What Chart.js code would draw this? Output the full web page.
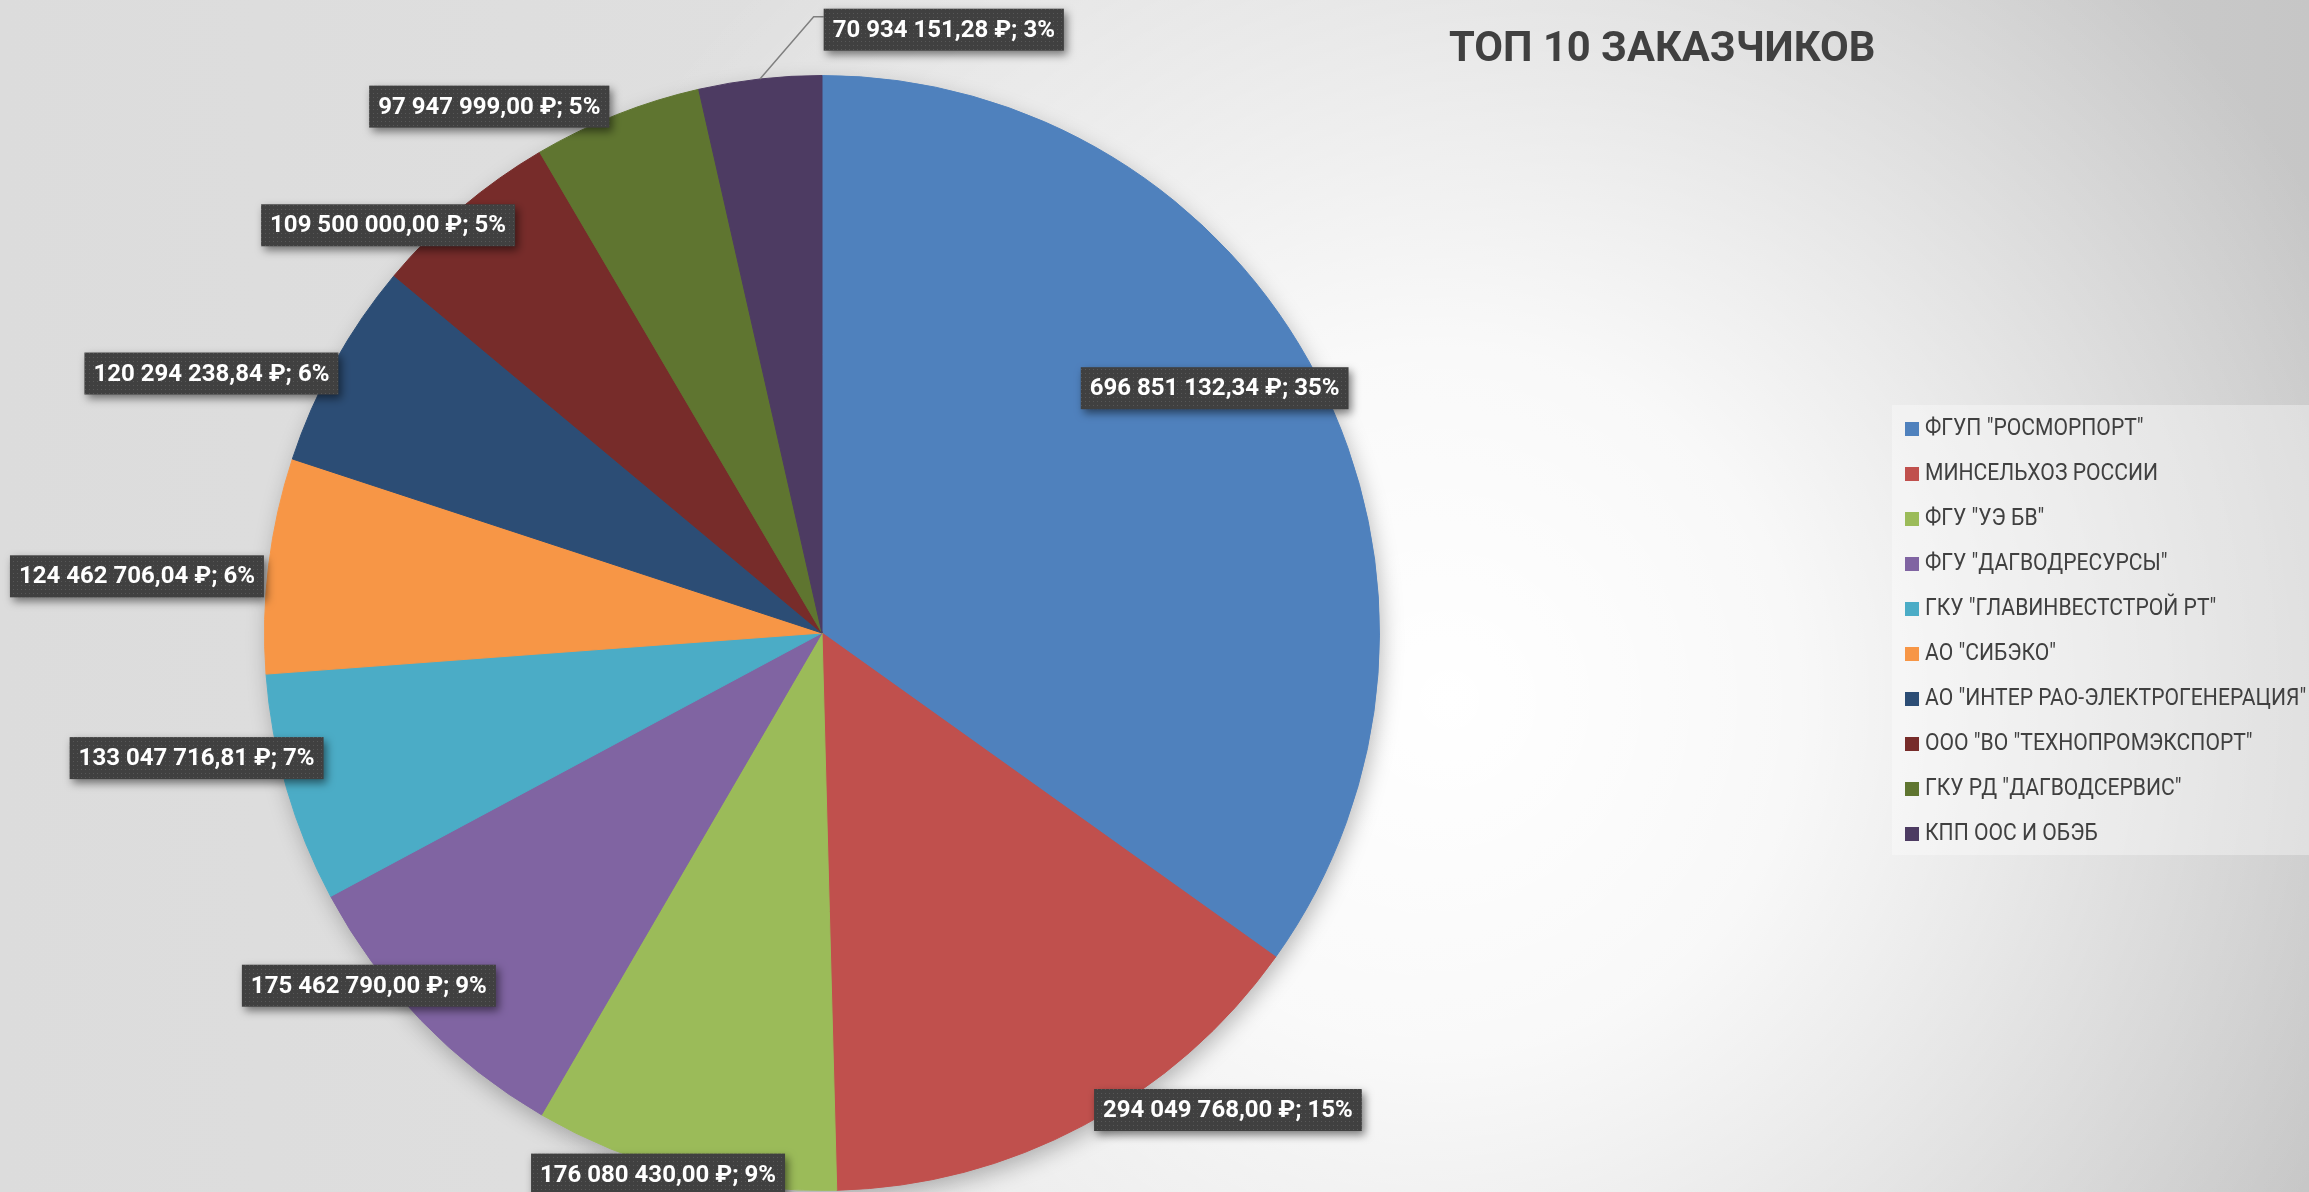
<!DOCTYPE html>
<html lang="ru">
<head>
<meta charset="utf-8">
<title>ТОП 10 ЗАКАЗЧИКОВ</title>
<script src="https://cdn.jsdelivr.net/npm/chart.js@4"></script>
<style>
  html, body { margin: 0; padding: 0; }
  body {
    width: 2309px; height: 1192px; overflow: hidden; position: relative;
    background:
      radial-gradient(circle 1000px at 1450px 700px, rgba(255,255,255,1) 0%, rgba(255,255,255,0.85) 35%, rgba(255,255,255,0) 100%),
      linear-gradient(90deg, #dcdcdc 0%, #e0e0e0 45%, #c6c6c6 100%);
  }
  #wrap { position: absolute; left: 0; top: 0; width: 2309px; height: 1192px; }
  #title {
    position: absolute; left: 1449px; top: 21px;
    font: bold 43px Roboto, "Noto Sans", sans-serif;
    color: #404040; white-space: nowrap;
    transform: scaleX(0.97); transform-origin: left center;
  }
  #legend {
    position: absolute; left: 1892px; top: 405px; width: 417px; height: 450px;
    background: rgba(255,255,255,0.35);
  }
  .item {
    position: absolute; left: 13px; height: 30px; line-height: 30px;
    font: 24px Roboto, "Noto Sans", sans-serif; color: #404040; white-space: nowrap;
  }
  .sw { display: inline-block; width: 14px; height: 14px; margin-right: 6px; vertical-align: -1px; }
  .txt { display: inline-block; transform: scaleX(0.88); transform-origin: left center; }
</style>
</head>
<body>
<div id="wrap"><canvas id="chart1"></canvas></div>
<div id="title">ТОП 10 ЗАКАЗЧИКОВ</div>
<div id="legend"></div>
<script>
// Данные: заказчики и суммы контрактов, ₽
const customers = [
    'ФГУП "РОСМОРПОРТ"',
    'МИНСЕЛЬХОЗ РОССИИ',
    'ФГУ "УЭ БВ"',
    'ФГУ "ДАГВОДРЕСУРСЫ"',
    'ГКУ "ГЛАВИНВЕСТСТРОЙ РТ"',
    'АО "СИБЭКО"',
    'АО "ИНТЕР РАО-ЭЛЕКТРОГЕНЕРАЦИЯ"',
    'ООО "ВО "ТЕХНОПРОМЭКСПОРТ"',
    'ГКУ РД "ДАГВОДСЕРВИС"',
    'КПП ООС И ОБЭБ'
];
const amounts = [
    696851132.34, 294049768.00, 176080430.00, 175462790.00, 133047716.81,
    124462706.04, 120294238.84, 109500000.00, 97947999.00, 70934151.28
];
const colors = [
    '#4F81BD', '#C0504D', '#9BBB59', '#8064A2', '#4BACC6',
    '#F79646', '#2C4D75', '#772C2A', '#5F7530', '#4D3B62'
];

// Положение подписей: [доля радиуса, сдвиг угла в градусах, выравнивание]
const labelPlace = [
    [0.83, -4.7, 'c'],
    [0.985, -1.7, 'l'],
    [1.015, 2.5, 'c'],
    [1.03, 6.1, 'c'],
    [1.144, 4.9, 'c'],
    [1.233, -2.25, 'c'],
    [1.19, -6, 'c'],
    [1.068, -6.5, 'c'],
    [1.117, -10.7, 'c'],
    [1.104, 17.8, 'c']
];

// Проценты как в Excel (сумма = 100)
function percents(values) {
    const total = values.reduce((a, b) => a + b, 0);
    const raw = values.map(v => v / total * 100);
    const res = raw.map(Math.floor);
    let left = 100 - res.reduce((a, b) => a + b, 0);
    const order = raw.map((r, i) => [r - Math.floor(r), i]).sort((a, b) => b[0] - a[0]);
    for (let k = 0; k < left; k++) res[order[k][1]]++;
    return res;
}

function money(v) {
    const parts = v.toFixed(2).split('.');
    const int = parts[0].replace(/\B(?=(\d{3})+(?!\d))/g, ' ');
    return int + ',' + parts[1] + ' ₽';
}

const pct = percents(amounts);

// Легенда
const legend = document.getElementById('legend');
customers.forEach((name, i) => {
    const el = document.createElement('div');
    el.className = 'item';
    el.style.top = (8 + i * 45) + 'px';
    el.innerHTML = '<span class="sw" style="background:' + colors[i] + '"></span>';
    const t = document.createElement('span');
    t.className = 'txt';
    t.textContent = name;
    el.appendChild(t);
    legend.appendChild(el);
});

// Фон подписей в точку
function dotPattern(ctx) {
    const c = document.createElement('canvas');
    c.width = 4; c.height = 4;
    const p = c.getContext('2d');
    p.fillStyle = '#404040';
    p.fillRect(0, 0, 4, 4);
    p.fillStyle = '#575757';
    p.fillRect(1, 1, 1, 1);
    return ctx.createPattern(c, 'repeat');
}

const pieExtras = {
    id: 'pieExtras',
    beforeDatasetsDraw(chart) {
        const arc = chart.getDatasetMeta(0).data[0];
        const ctx = chart.ctx;
        ctx.save();
        ctx.shadowColor = 'rgba(0,0,0,0.28)';
        ctx.shadowBlur = 22;
        ctx.shadowOffsetY = 8;
        ctx.shadowOffsetX = 3;
        ctx.fillStyle = '#808080';
        ctx.beginPath();
        ctx.arc(arc.x, arc.y, arc.outerRadius - 1, 0, Math.PI * 2);
        ctx.fill();
        ctx.restore();
    },
    afterDatasetsDraw(chart) {
        const ctx = chart.ctx;
        const meta = chart.getDatasetMeta(0);
        const pattern = dotPattern(ctx);
        ctx.save();
        ctx.font = 'bold 24px Roboto, "Noto Sans", sans-serif';
        meta.data.forEach((arc, i) => {
            const text = money(amounts[i]) + '; ' + pct[i] + '%';
            const [f, dA, align] = labelPlace[i];
            const mid = (arc.startAngle + arc.endAngle) / 2;
            const a = mid + dA * Math.PI / 180;
            const R = arc.outerRadius;
            const px = arc.x + f * R * Math.cos(a);
            const py = arc.y + f * R * Math.sin(a);
            const w = ctx.measureText(text).width + 18;
            const h = 42;
            let left = px - w / 2;
            if (align === 'l') left = px;
            if (align === 'r') left = px - w;
            const top = py - h / 2;

            if (i === 9) {
                // выноска
                ctx.strokeStyle = '#7f7f7f';
                ctx.lineWidth = 1.5;
                ctx.beginPath();
                ctx.moveTo(arc.x + R * Math.cos(mid), arc.y + R * Math.sin(mid));
                ctx.lineTo(left - 10, top + 8);
                ctx.lineTo(left, top + 8);
                ctx.stroke();
            }

            ctx.save();
            ctx.shadowColor = 'rgba(0,0,0,0.5)';
            ctx.shadowBlur = 8;
            ctx.shadowOffsetX = 3;
            ctx.shadowOffsetY = 4;
            ctx.fillStyle = pattern;
            ctx.fillRect(left, top, w, h);
            ctx.restore();

            ctx.fillStyle = '#ffffff';
            ctx.textBaseline = 'middle';
            ctx.textAlign = 'left';
            ctx.fillText(text, left + 9, top + h / 2 + 1);
        });
        ctx.restore();
    }
};

function createChart(chartId) {
    const ctx = document.getElementById(chartId).getContext('2d');
    new Chart(ctx, {
        type: 'pie',
        data: {
            labels: customers,
            datasets: [{
                data: amounts,
                backgroundColor: colors,
                borderColor: colors,
                borderWidth: 1
            }]
        },
        options: {
            responsive: true,
            maintainAspectRatio: false,
            animation: false,
            layout: {
                padding: { left: 264, right: 929, top: 75, bottom: 1 }
            },
            plugins: {
                legend: { display: false },
                tooltip: { enabled: false }
            }
        },
        plugins: [pieExtras]
    });
}

createChart('chart1');
</script>
</body>
</html>
